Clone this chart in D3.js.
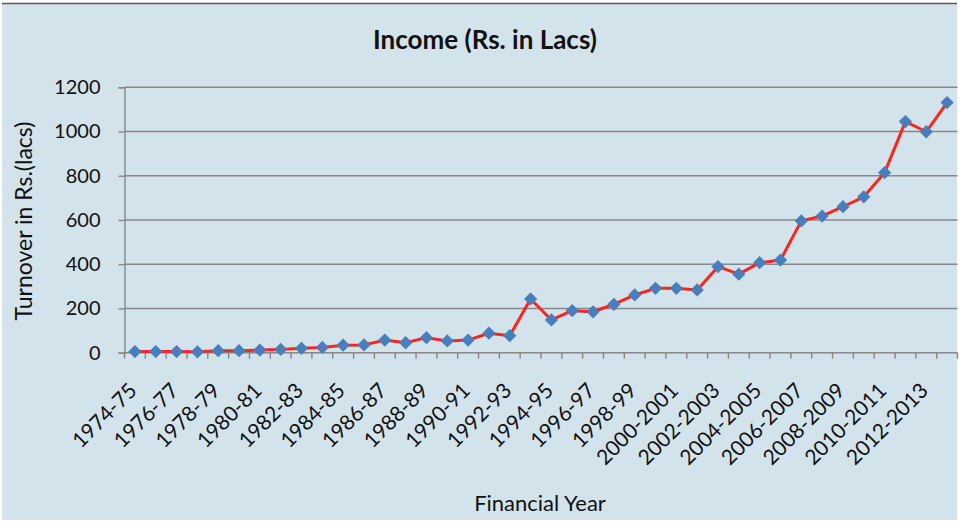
<!DOCTYPE html>
<html>
<head>
<meta charset="utf-8">
<script src="https://cdn.jsdelivr.net/npm/d3@7/dist/d3.min.js"></script>
<style>
  html, body { margin: 0; padding: 0; background: #ffffff; }
  svg { display: block; font-family: Lato, "Open Sans", sans-serif; }
</style>
</head>
<body>
<svg id="chart" width="959" height="522"></svg>
<script>
// Financial years, one per point
const years = [
  "1974-75","1975-76","1976-77","1977-78","1978-79","1979-80","1980-81","1981-82",
  "1982-83","1983-84","1984-85","1985-86","1986-87","1987-88","1988-89","1989-90",
  "1990-91","1991-92","1992-93","1993-94","1994-95","1995-96","1996-97","1997-98",
  "1998-99","1999-2000","2000-2001","2001-2002","2002-2003","2003-2004","2004-2005","2005-2006",
  "2006-2007","2007-2008","2008-2009","2009-2010","2010-2011","2011-2012","2012-2013","2013-2014"
];
// Income, Rs. in lacs
const income = [
  5, 5, 5, 4, 9, 9, 12, 15,
  20, 24, 34, 35, 57, 45, 68, 53,
  57, 88, 77, 243, 148, 190, 185, 219,
  261, 291, 291, 284, 389, 355, 407, 419,
  596, 618, 660, 705, 814, 1045, 999, 1131
];
const yTicks = [0, 200, 400, 600, 800, 1000, 1200];
// every other year is labelled on the axis
const labelledYears = years.filter((d, i) => i % 2 === 0);

const svg = d3.select("#chart");
const W = 959, H = 522;

// panel background with the dark top rule
svg.append("rect").attr("x", 2).attr("y", 3).attr("width", W - 4).attr("height", H - 5)
  .attr("fill", "#d3e3ec");
svg.append("line").attr("x1", 2).attr("x2", W - 2).attr("y1", 3.5).attr("y2", 3.5)
  .attr("stroke", "#5a5a5a").attr("stroke-width", 1.5);

const plotLeft = 124.5, plotRight = 957.5, plotTop = 87.3, plotBottom = 352.7;

const x = d3.scaleBand().domain(years).range([plotLeft, plotRight]).padding(0);
const y = d3.scaleLinear().domain([0, 1200]).range([plotBottom, plotTop]);

// horizontal gridlines
svg.append("g").selectAll("line").data(yTicks.filter(d => d > 0)).join("line")
  .attr("x1", plotLeft).attr("x2", plotRight)
  .attr("y1", d => y(d)).attr("y2", d => y(d))
  .attr("stroke", "#878787").attr("stroke-width", 1.4);

// y axis
const yAxis = svg.append("g").attr("transform", `translate(${plotLeft},0)`)
  .call(d3.axisLeft(y).tickValues(yTicks).tickFormat(d3.format("d")).tickSize(6).tickPadding(18));
yAxis.select(".domain").attr("stroke", "#878787").attr("stroke-width", 1.4);
yAxis.selectAll(".tick line").attr("stroke", "#878787").attr("stroke-width", 1.4);
yAxis.selectAll(".tick text").attr("fill", "#111").style("font-size", "20px")
  .style("font-family", "Lato, sans-serif");

// x axis: ticks on band boundaries
const xAxisG = svg.append("g").attr("transform", `translate(0,${plotBottom})`);
const boundaries = d3.range(years.length + 1).map(i => plotLeft + i * x.bandwidth());
xAxisG.append("line").attr("x1", plotLeft).attr("x2", plotRight).attr("y1", 0).attr("y2", 0)
  .attr("stroke", "#878787").attr("stroke-width", 1.4);
xAxisG.selectAll("line.tk").data(boundaries).join("line").attr("class", "tk")
  .attr("x1", d => d).attr("x2", d => d).attr("y1", 0).attr("y2", 6)
  .attr("stroke", "#878787").attr("stroke-width", 1.4);
xAxisG.selectAll("text").data(labelledYears).join("text")
  .attr("transform", d => `translate(${x(d) + x.bandwidth() / 2 - 2},${34}) rotate(-45)`)
  .attr("text-anchor", "end").attr("dy", "0.35em")
  .attr("fill", "#111").style("font-size", "21px")
  .text(d => d);

// line
const line = d3.line().x((d, i) => x(years[i]) + x.bandwidth() / 2).y(d => y(d));
svg.append("path").datum(income).attr("d", line)
  .attr("fill", "none").attr("stroke", "#f8261c").attr("stroke-width", 3)
  .attr("stroke-linejoin", "round");

// diamond markers
const diamond = d3.symbol().type(d3.symbolSquare).size(88);
svg.append("g").selectAll("path").data(income).join("path")
  .attr("d", diamond)
  .attr("transform", (d, i) => `translate(${x(years[i]) + x.bandwidth() / 2},${y(d)}) rotate(45)`)
  .attr("fill", "#4a7ebb");

// titles
svg.append("text").attr("x", 485).attr("y", 49).attr("text-anchor", "middle")
  .style("font-size", "26px").style("font-weight", "bold").attr("fill", "#111")
  .text("Income (Rs. in Lacs)");
svg.append("text").attr("x", 540).attr("y", 511).attr("text-anchor", "middle")
  .style("font-size", "22px").attr("fill", "#111")
  .text("Financial Year");
svg.append("text").attr("transform", "translate(32,221) rotate(-90)")
  .attr("text-anchor", "middle").style("font-size", "23px").attr("fill", "#111")
  .text("Turnover in Rs.(lacs)");
</script>
</body>
</html>
